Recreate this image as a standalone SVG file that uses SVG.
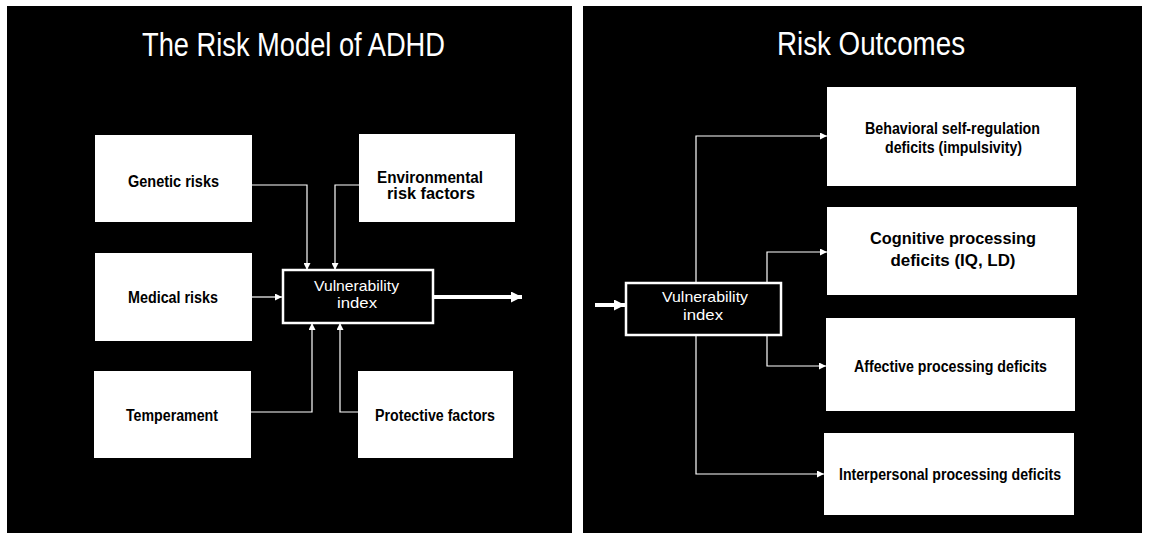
<svg xmlns="http://www.w3.org/2000/svg" width="1151" height="535" viewBox="0 0 1151 535">
<style>
.bg{fill:#ffffff}
.panel{fill:#000000}
.box{fill:#ffffff}
.vbox{fill:#000000;stroke:#ffffff;stroke-width:2.5}
.title{font-family:"Liberation Sans",Arial,sans-serif;font-size:33px;fill:#ffffff}
.lbl{font-family:"Liberation Sans",Arial,sans-serif;font-size:16px;font-weight:bold;fill:#000000;text-anchor:middle}
.vlbl{font-family:"Liberation Sans",Arial,sans-serif;font-size:15px;fill:#ffffff;text-anchor:middle}
.conn{fill:none;stroke:#ffffff;stroke-width:1.2}
.thick{fill:none;stroke:#ffffff;stroke-width:4}
</style>
<defs>
<marker id="ah" viewBox="0 0 10 10" refX="10" refY="5" markerWidth="7" markerHeight="7" markerUnits="userSpaceOnUse" orient="auto">
<path d="M0,0 L10,5 L0,10 Z" fill="#ffffff"/>
</marker>
<marker id="bigah" viewBox="0 0 10 10" refX="10" refY="5" markerWidth="11" markerHeight="11" markerUnits="userSpaceOnUse" orient="auto">
<path d="M0,0 L10,5 L0,10 Z" fill="#ffffff"/>
</marker>
</defs>
<rect class="bg" x="0" y="0" width="1151" height="535"/>
<rect class="panel" x="7" y="6" width="565" height="527"/>
<rect class="panel" x="583" y="6" width="559" height="527"/>
<text class="title" x="142" y="56" textLength="303" lengthAdjust="spacingAndGlyphs">The Risk Model of ADHD</text>
<text class="title" x="777" y="55" textLength="188" lengthAdjust="spacingAndGlyphs">Risk Outcomes</text>
<g id="connectors">
<path class="conn" d="M252,185 H307 V270" marker-end="url(#ah)"/>
<path class="conn" d="M359,185 H335 V270" marker-end="url(#ah)"/>
<path class="conn" d="M252,297 H282" marker-end="url(#ah)"/>
<path class="conn" d="M251,412 H312 V323" marker-end="url(#ah)"/>
<path class="conn" d="M358,412 H340 V323" marker-end="url(#ah)"/>
<path class="thick" d="M433,297 H522" marker-end="url(#bigah)"/>
<path class="thick" d="M595,305 H625" marker-end="url(#bigah)"/>
<path class="conn" d="M696,283 V136 H827" marker-end="url(#ah)"/>
<path class="conn" d="M767,283 V252 H827" marker-end="url(#ah)"/>
<path class="conn" d="M767,335 V366 H826" marker-end="url(#ah)"/>
<path class="conn" d="M696,335 V474 H824" marker-end="url(#ah)"/>
</g>
<g id="genetic">
<rect class="box" x="95" y="135" width="157" height="87"/>
<text class="lbl" x="173.5" y="187" textLength="91" lengthAdjust="spacingAndGlyphs">Genetic risks</text>
</g>
<g id="environmental">
<rect class="box" x="359" y="134" width="156" height="88"/>
<text class="lbl" x="430" y="183" textLength="106" lengthAdjust="spacingAndGlyphs">Environmental</text>
<text class="lbl" x="431" y="199" textLength="88" lengthAdjust="spacingAndGlyphs">risk factors</text>
</g>
<g id="medical">
<rect class="box" x="95" y="253" width="157" height="88"/>
<text class="lbl" x="173" y="303" textLength="90" lengthAdjust="spacingAndGlyphs">Medical risks</text>
</g>
<g id="temperament">
<rect class="box" x="94" y="371" width="157" height="87"/>
<text class="lbl" x="172" y="421" textLength="92" lengthAdjust="spacingAndGlyphs">Temperament</text>
</g>
<g id="protective">
<rect class="box" x="358" y="371" width="155" height="87"/>
<text class="lbl" x="435" y="421" textLength="120" lengthAdjust="spacingAndGlyphs">Protective factors</text>
</g>
<g id="vuln-left">
<rect class="vbox" x="283" y="270" width="150" height="53"/>
<text class="vlbl" x="356.5" y="291" textLength="85" lengthAdjust="spacingAndGlyphs">Vulnerability</text>
<text class="vlbl" x="357" y="308" textLength="40" lengthAdjust="spacingAndGlyphs">index</text>
</g>
<g id="vuln-right">
<rect class="vbox" x="626" y="283" width="155" height="52"/>
<text class="vlbl" x="705" y="302" textLength="86" lengthAdjust="spacingAndGlyphs">Vulnerability</text>
<text class="vlbl" x="703" y="320" textLength="40" lengthAdjust="spacingAndGlyphs">index</text>
</g>
<g id="behavioral">
<rect class="box" x="827" y="87" width="249" height="99"/>
<text class="lbl" x="952.5" y="134" textLength="175" lengthAdjust="spacingAndGlyphs">Behavioral self-regulation</text>
<text class="lbl" x="953.5" y="153" textLength="137" lengthAdjust="spacingAndGlyphs">deficits (impulsivity)</text>
</g>
<g id="cognitive">
<rect class="box" x="827" y="207" width="250" height="88"/>
<text class="lbl" x="953" y="244" textLength="166" lengthAdjust="spacingAndGlyphs">Cognitive processing</text>
<text class="lbl" x="953" y="266" textLength="125" lengthAdjust="spacingAndGlyphs">deficits (IQ, LD)</text>
</g>
<g id="affective">
<rect class="box" x="826" y="318" width="249" height="93"/>
<text class="lbl" x="950.5" y="372" textLength="193" lengthAdjust="spacingAndGlyphs">Affective processing deficits</text>
</g>
<g id="interpersonal">
<rect class="box" x="824" y="433" width="250" height="82"/>
<text class="lbl" x="950" y="480" textLength="222" lengthAdjust="spacingAndGlyphs">Interpersonal processing deficits</text>
</g>
</svg>
